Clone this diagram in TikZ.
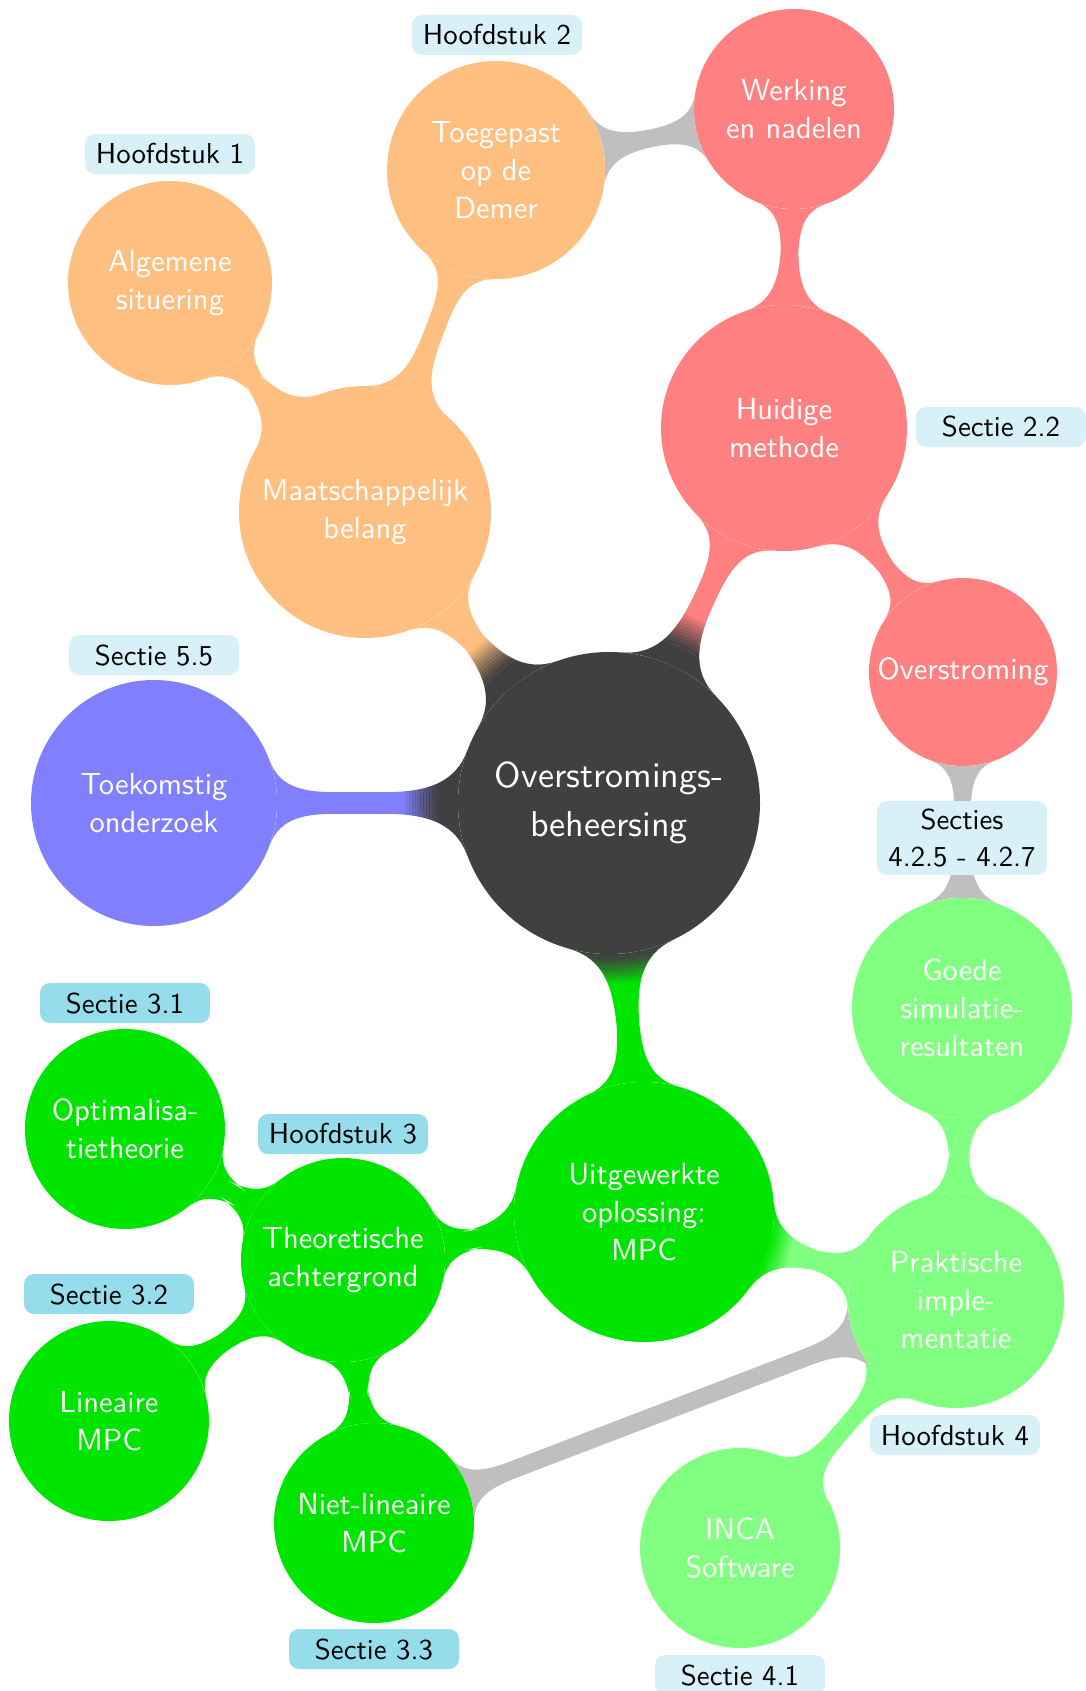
\documentclass[tikz,border=0pt]{standalone}
\usepackage{fontspec}
\setsansfont{lmsans10-regular.otf}
\usetikzlibrary{mindmap,backgrounds}
\definecolor{lablight}{RGB}{216,240,248}
\definecolor{labdark}{RGB}{150,221,236}
\colorlet{cRoot}{black!75}
\colorlet{cOrange}{orange!50}
\colorlet{cRed}{red!50}
\colorlet{cBlue}{blue!50}
\colorlet{cGreen}{green!90!black}
\colorlet{cLight}{green!50}
\colorlet{cGray}{black!25}
\tikzset{
  ball/.style={circle, fill=#1, text=white, inner sep=0pt, align=center,
    font=\sffamily\fontsize{30.5}{38.3}\selectfont},
  lab/.style={rectangle, rounded corners=10pt, fill=#1, text=black,
    minimum width=170pt, minimum height=40pt, inner sep=8pt, align=center,
    font=\sffamily\fontsize{28.8}{36.7}\selectfont},
  bar/.style={line width=20pt},
  link/.style={bar, circle connection bar switch color=from (#1) to (#1)}
}
% colour switch near a parent concept: the parent colour is laid over the
% child-coloured bar and fades out in 12 rings between radius #2 and #3
\newcommand\colorramp[4]{%
  \begin{scope}
    \clip (#1.center) circle[radius=#2pt];
    #4
  \end{scope}
  \foreach \k in {0,...,11}{%
    \pgfmathsetmacro\ra{#2+\k*(#3-#2)/12}%
    \pgfmathsetmacro\rb{#2+(\k+1)*(#3-#2)/12+0.4}%
    \pgfmathsetmacro\op{1-(\k+0.5)/12}%
    \begin{scope}[opacity=\op]
      \clip ([shift={(\rb pt,0pt)}]#1.center) arc[start angle=0, end angle=360, radius=\rb pt]
            ([shift={(\ra pt,0pt)}]#1.center) arc[start angle=360, end angle=0, radius=\ra pt];
      #4
    \end{scope}
  }%
}
\begin{document}
\begin{tikzpicture}[x=1pt,y=-1pt]
\useasboundingbox (0,0) rectangle (1086,1691);
% concepts
\node[ball=cRoot, minimum size=302pt, font=\sffamily\fontsize{36}{48.5}\selectfont] (root) at (609,803) {Overstromings-\\beheersing};
\node[ball=cOrange, minimum size=252pt] (maat) at (365,512) {Maatschappelijk\\belang};
\node[ball=cOrange, minimum size=204pt] (alg) at (170,283) {Algemene\\situering};
\node[ball=cOrange, minimum size=218pt] (toeg) at (496,170) {Toegepast\\op de\\Demer};
\node[ball=cRed, minimum size=246pt] (huid) at (784,428) {Huidige\\methode};
\node[ball=cRed, minimum size=200pt] (werk) at (794,109) {Werking\\en nadelen};
\node[ball=cRed, minimum size=188pt] (overs) at (963,672) {Overstroming};
\node[ball=cBlue, minimum size=246pt] (toek) at (154,803) {Toekomstig\\onderzoek};
\node[ball=cGreen, minimum size=260pt] (uitg) at (644,1212) {Uitgewerkte\\oplossing:\\MPC};
\node[ball=cGreen, minimum size=204pt] (theo) at (343,1260) {Theoretische\\achtergrond};
\node[ball=cGreen, minimum size=200pt] (opt) at (125,1129) {Optimalisa-\\tietheorie};
\node[ball=cGreen, minimum size=200pt] (lin) at (109,1421) {Lineaire\\MPC};
\node[ball=cGreen, minimum size=200pt] (niet) at (374,1523) {Niet-lineaire\\MPC};
\node[ball=cLight, minimum size=216pt] (prak) at (956,1300) {Praktische\\imple-\\mentatie};
\node[ball=cLight, minimum size=220pt] (goed) at (962,1008) {Goede\\simulatie-\\resultaten};
\node[ball=cLight, minimum size=200pt] (inca) at (740,1548) {INCA\\Software};
% connections
\begin{scope}[on background layer]
\path (root) to[link=cOrange] (maat);
\path (root) to[link=cRed] (huid);
\path (root) to[link=cBlue] (toek);
\path (root) to[link=cGreen] (uitg);
\path (uitg) to[link=cLight] (prak);
\colorramp{root}{171}{205}{%
  \path (root) to[link=cRoot] (maat);
  \path (root) to[link=cRoot] (huid);
  \path (root) to[link=cRoot] (toek);}
\colorramp{root}{154}{181}{\path (root) to[link=cRoot] (uitg);}
\colorramp{uitg}{128}{152}{\path (uitg) to[link=cGreen] (prak);}
\path (maat) to[link=cOrange] (alg);
\path (maat) to[link=cOrange] (toeg);
\path (huid) to[link=cRed] (werk);
\path (huid) to[link=cRed] (overs);
\path (uitg) to[link=cGreen] (theo);
\path (theo) to[link=cGreen] (opt);
\path (theo) to[link=cGreen] (lin);
\path (theo) to[link=cGreen] (niet);
\path (prak) to[link=cLight] (goed);
\path (prak) to[link=cLight] (inca);
\path (toeg) to[link=cGray] (werk);
\path (overs) to[link=cGray] (goed);
\path (niet) to[link=cGray] (prak);
\end{scope}
% labels
\node[lab=lablight] (l1) at (170,154) {Hoofdstuk 1};
\node[lab=lablight] (l2) at (497,35) {Hoofdstuk 2};
\node[lab=lablight] (l22) at (1001,427) {Sectie 2.2};
\node[lab=lablight] (l55) at (154,655) {Sectie 5.5};
\node[lab=lablight] (l425) at (962,838) {Secties\\4.2.5 - 4.2.7};
\node[lab=labdark] (l31) at (125,1003) {Sectie 3.1};
\node[lab=labdark] (l3) at (343,1134) {Hoofdstuk 3};
\node[lab=labdark] (l32) at (109,1294) {Sectie 3.2};
\node[lab=lablight] (l4) at (955,1435) {Hoofdstuk 4};
\node[lab=labdark] (l33) at (374,1649) {Sectie 3.3};
\node[lab=lablight] (l41) at (740,1675) {Sectie 4.1};
\end{tikzpicture}
\end{document}
